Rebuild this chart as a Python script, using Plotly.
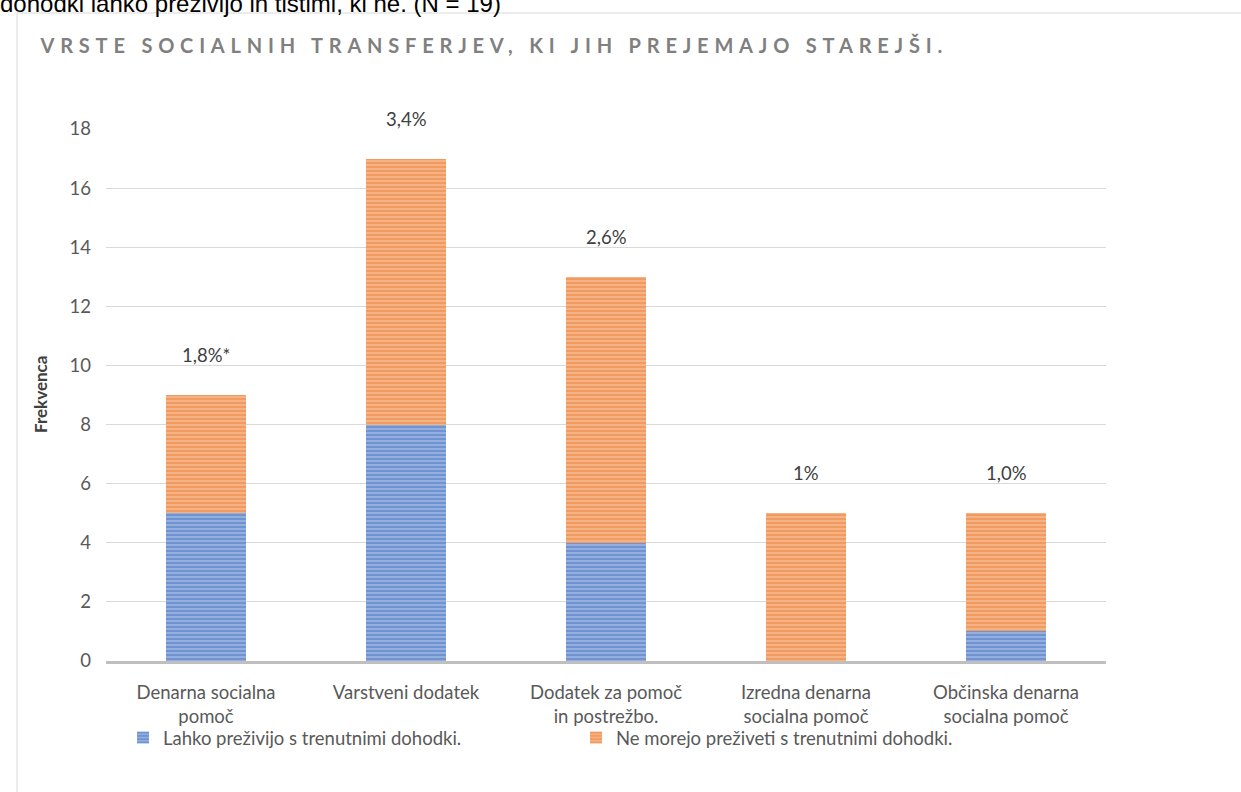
import plotly.graph_objects as go

categories = ["Denarna socialna<br>pomoč", "Varstveni dodatek", "Dodatek za pomoč<br>in postrežbo.",
              "Izredna denarna<br>socialna pomoč", "Občinska denarna<br>socialna pomoč"]
lahko = [5, 8, 4, 0, 1]
ne_morejo = [4, 9, 9, 5, 4]
pct_labels = ["1,8%*", "3,4%", "2,6%", "1%", "1,0%"]
series_names = ["Lahko preživijo s trenutnimi dohodki.", "Ne morejo preživeti s trenutnimi dohodki."]
title_text = "VRSTE SOCIALNIH TRANSFERJEV, KI JIH PREJEMAJO STAREJŠI."
top_text = "dohodki lahko preživijo in tistimi, ki ne. (N = 19)"

FONT = "Lato"
FS = 18.5
fig = go.Figure()
fig.add_trace(go.Bar(
    x=categories, y=lahko, name=series_names[0], width=0.4,
    marker=dict(color="#4472C4", line=dict(width=0),
                pattern=dict(shape="-", size=4, solidity=0.6, fgcolor="#4472C4", bgcolor="#9DB5E0")),
))
fig.add_trace(go.Bar(
    x=categories, y=ne_morejo, name=series_names[1], width=0.4,
    marker=dict(color="#ED7D31", line=dict(width=0),
                pattern=dict(shape="-", size=4, solidity=0.6, fgcolor="#ED7D31", bgcolor="#F6B98E")),
))

totals = [a + b for a, b in zip(lahko, ne_morejo)]
for c, t, lab in zip(categories, totals, pct_labels):
    fig.add_annotation(x=c, y=t, text=lab, showarrow=False, yanchor="bottom", yshift=27,
                       font=dict(family=FONT, size=FS, color="#404040"))

fig.add_annotation(xref="paper", yref="paper", x=(40 - 106) / 1000, y=0.5, text="<b>Frekvenca</b>",
                   textangle=-90, showarrow=False, xanchor="center", yanchor="middle",
                   font=dict(family=FONT, size=17, color="#404040"))
fig.add_annotation(xref="paper", yref="paper", x=(494 - 106) / 1000, y=(661 - 45) / 532, xanchor="center",
                   yanchor="middle", text="<b>" + title_text + "</b>", showarrow=False,
                   font=dict(family=FONT, size=20, color="#808080"))
fig.add_annotation(xref="paper", yref="paper", x=(-2 - 106) / 1000, y=(661 - 19) / 532, xanchor="left",
                   yanchor="bottom", text=top_text, showarrow=False,
                   font=dict(family="Liberation Sans", size=24, color="#000000"))

fig.add_shape(type="rect", xref="paper", yref="paper",
              x0=(17 - 106) / 1000, x1=(1250 - 106) / 1000, y0=(661 - 800) / 532, y1=(661 - 13) / 532,
              line=dict(color="#D9D9D9", width=1), fillcolor="rgba(0,0,0,0)", layer="below")

fig.update_layout(
    width=1241, height=792, barmode="stack",
    margin=dict(l=106, r=135, t=129, b=131),
    paper_bgcolor="white", plot_bgcolor="white",
    font=dict(family=FONT, size=FS, color="#595959"),
    showlegend=True,
    legend=dict(orientation="h", x=0.017, y=(661 - 738) / 532, xanchor="left", yanchor="middle",
                entrywidth=408, traceorder="normal", bgcolor="rgba(0,0,0,0)",
                font=dict(family=FONT, size=FS, color="#595959"), itemwidth=30),
    xaxis=dict(showline=True, linecolor="#BFBFBF", linewidth=3, ticks="", showgrid=False,
               tickfont=dict(family=FONT, size=FS, color="#595959"), ticklabelstandoff=13),
    yaxis=dict(range=[0, 18], dtick=2, showgrid=True, gridcolor="#D9D9D9", gridwidth=1,
               zeroline=False, showline=False, ticks="", ticklabelstandoff=14,
               tickfont=dict(family=FONT, size=FS, color="#595959")),
)

post_js = """
document.body.style.margin = '0';
document.querySelectorAll('text.annotation-text').forEach(function (t) {
  if (t.textContent.indexOf('VRSTE') === 0) { t.style.letterSpacing = '5.8px'; }
});
"""

fig.write_html("out.html", post_script=post_js, config={"displayModeBar": False})
